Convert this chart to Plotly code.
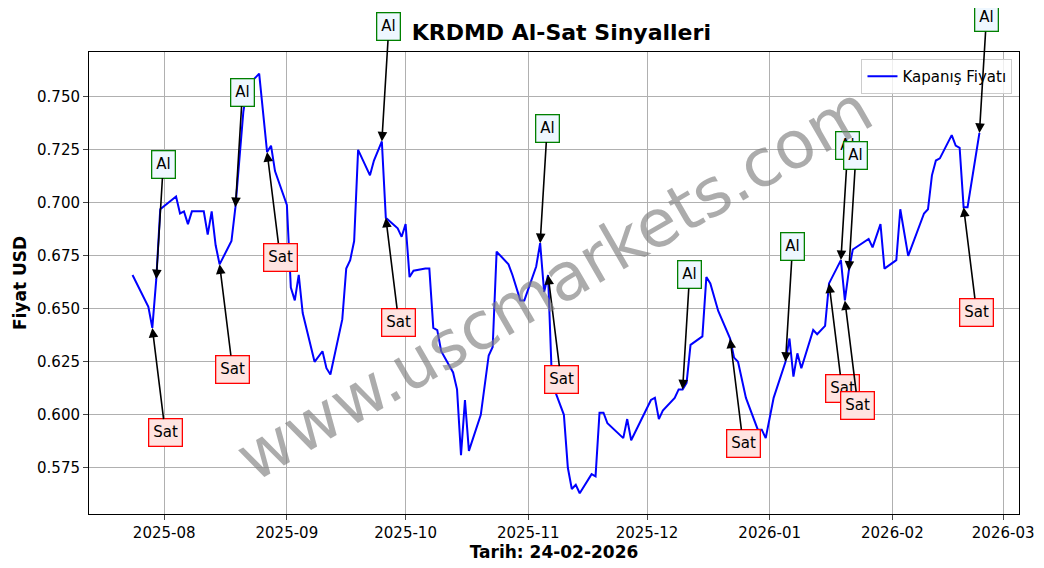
import plotly.graph_objects as go

dates = ["2025-07-24","2025-07-28","2025-07-29","2025-07-30","2025-07-31","2025-08-04","2025-08-05","2025-08-06","2025-08-07","2025-08-08",
"2025-08-11","2025-08-12","2025-08-13","2025-08-14","2025-08-15","2025-08-18","2025-08-19","2025-08-20","2025-08-21","2025-08-22",
"2025-08-25","2025-08-27","2025-08-28","2025-08-29","2025-09-01","2025-09-02","2025-09-03","2025-09-04","2025-09-05","2025-09-08",
"2025-09-10","2025-09-11","2025-09-12","2025-09-15","2025-09-16","2025-09-17","2025-09-18","2025-09-19","2025-09-22","2025-09-23",
"2025-09-25","2025-09-26","2025-09-29","2025-09-30","2025-10-01","2025-10-02","2025-10-03","2025-10-06","2025-10-07","2025-10-08",
"2025-10-09","2025-10-10","2025-10-13","2025-10-14","2025-10-15","2025-10-16","2025-10-17","2025-10-20","2025-10-22","2025-10-23",
"2025-10-24","2025-10-27","2025-10-28","2025-10-30","2025-10-31","2025-11-03","2025-11-04","2025-11-05","2025-11-06","2025-11-07",
"2025-11-10","2025-11-11","2025-11-12","2025-11-13","2025-11-14","2025-11-17","2025-11-18","2025-11-19","2025-11-20","2025-11-21",
"2025-11-25","2025-11-26","2025-11-27","2025-12-02","2025-12-03","2025-12-04","2025-12-05","2025-12-08","2025-12-09","2025-12-10",
"2025-12-11","2025-12-12","2025-12-15","2025-12-16","2025-12-17","2025-12-19","2025-12-22","2025-12-23","2025-12-24","2025-12-26",
"2025-12-29","2025-12-30","2025-12-31","2026-01-02","2026-01-05","2026-01-06","2026-01-07","2026-01-08","2026-01-09","2026-01-12",
"2026-01-13","2026-01-15","2026-01-16","2026-01-19","2026-01-20","2026-01-21","2026-01-22","2026-01-26","2026-01-27","2026-01-29",
"2026-01-30","2026-02-02","2026-02-03","2026-02-05","2026-02-09","2026-02-10","2026-02-11","2026-02-12","2026-02-13","2026-02-16",
"2026-02-17","2026-02-18","2026-02-19","2026-02-20","2026-02-23"]
prices = [0.666,0.651,0.641,0.664,0.697,0.703,0.695,0.696,0.690,0.696,
0.696,0.685,0.696,0.680,0.671,0.682,0.698,0.720,0.743,0.755,
0.761,0.724,0.727,0.715,0.699,0.660,0.654,0.666,0.648,0.625,
0.630,0.622,0.619,0.645,0.669,0.673,0.682,0.725,0.713,0.720,
0.729,0.693,0.688,0.684,0.690,0.665,0.668,0.669,0.669,0.641,
0.640,0.630,0.620,0.612,0.581,0.607,0.583,0.600,0.628,0.632,
0.677,0.671,0.666,0.654,0.654,0.670,0.681,0.658,0.666,0.615,
0.600,0.575,0.565,0.567,0.563,0.572,0.571,0.601,0.601,0.596,
0.589,0.598,0.588,0.607,0.608,0.598,0.602,0.608,0.612,0.612,
0.615,0.633,0.637,0.665,0.662,0.649,0.636,0.627,0.625,0.608,
0.593,0.593,0.589,0.608,0.625,0.636,0.618,0.629,0.622,0.640,
0.638,0.642,0.662,0.673,0.654,0.668,0.678,0.683,0.679,0.690,
0.669,0.673,0.697,0.675,0.695,0.697,0.713,0.720,0.721,0.732,
0.727,0.726,0.698,0.698,0.733]

sig_dates = ["2025-07-29","2025-07-30","2025-08-15","2025-08-19","2025-08-27","2025-09-25","2025-09-26","2025-11-04","2025-11-06",
"2025-12-10","2025-12-22","2026-01-05","2026-01-16","2026-01-19","2026-01-20","2026-01-21","2026-02-19","2026-02-23"]
sig_types = ["Sat","Al","Sat","Al","Sat","Al","Sat","Al","Sat","Al","Sat","Al","Sat","Al","Sat","Al","Sat","Al"]

fig = go.Figure()
fig.add_trace(go.Scatter(x=dates, y=prices, mode="lines", line=dict(color="blue", width=2),
                         name="Kapanış Fiyatı"))

lookup = dict(zip(dates, prices))
for d, t in zip(sig_dates, sig_types):
    al = t == "Al"
    fig.add_annotation(x=d, y=lookup[d], text=t, showarrow=True, arrowhead=2, arrowsize=1.2,
                       arrowwidth=1.6, arrowcolor="black",
                       ax=7 if al else 13, ay=-115 if al else 105,
                       bgcolor="#eef7ff" if al else "#ffe4e1",
                       bordercolor="green" if al else "red", borderwidth=1.3, borderpad=4,
                       font=dict(size=15, color="black"))

fig.add_annotation(x=0.5, y=0.5, xref="paper", yref="paper", text="www.uscmarkets.com",
                   showarrow=False, textangle=-30, font=dict(size=66, color="rgba(128,128,128,0.65)"))

fig.update_layout(
    width=1044, height=568, template="none",
    font=dict(family="DejaVu Sans", size=14, color="black"),
    margin=dict(l=81, r=33, t=44, b=62),
    title=dict(text="<b>KRDMD Al-Sat Sinyalleri</b>", x=0.53, xanchor="center", y=0.97, font=dict(size=22)),
    plot_bgcolor="white", paper_bgcolor="white",
    legend=dict(x=0.993, y=0.985, xanchor="right", yanchor="top", bordercolor="#cccccc", borderwidth=1,
                bgcolor="rgba(255,255,255,0.8)", font=dict(size=15)),
    showlegend=True,
)
fig.update_xaxes(range=["2025-07-13","2026-03-05"], dtick="M1", tickformat="%Y-%m", tick0="2025-08-01",
                 showgrid=True, gridcolor="#b0b0b0", showline=True, linecolor="black", mirror=True,
                 ticks="outside", tickfont=dict(size=15), title=dict(text="<b>Tarih: 24-02-2026</b>", standoff=4))
fig.update_yaxes(range=[0.5532, 0.7712], dtick=0.025, tickformat=".3f",
                 showgrid=True, gridcolor="#b0b0b0", showline=True, linecolor="black", mirror=True,
                 ticks="outside", tickfont=dict(size=15), title=dict(text="<b>Fiyat USD</b>", standoff=6))
fig.write_html("out.html")
